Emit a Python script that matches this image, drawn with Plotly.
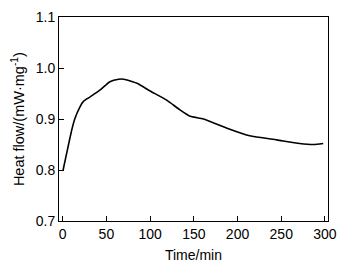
import plotly.graph_objects as go

time_min = [0.5, 4.6, 10.3, 14, 19.8, 24, 31, 43, 54, 64, 70, 85, 100, 119, 134, 145, 161, 188, 214, 245, 271, 287, 298]
heat_flow = [0.800, 0.833, 0.878, 0.901, 0.924, 0.935, 0.943, 0.957, 0.973, 0.978, 0.978, 0.970, 0.955, 0.937, 0.918, 0.906, 0.900, 0.882, 0.867, 0.859, 0.852, 0.850, 0.852]

x_ticks = [0, 50, 100, 150, 200, 250, 300]
y_ticks = [0.7, 0.8, 0.9, 1.0, 1.1]

fig = go.Figure()
fig.add_trace(go.Scatter(x=time_min, y=heat_flow, mode="lines",
                         line=dict(color="black", width=1.6, shape="spline", smoothing=0.5),
                         showlegend=False))

font = dict(family="Liberation Sans, Arial, sans-serif", size=14, color="black")
# page body has an 8px default margin, so the figure is offset by 8px
fig.update_layout(
    width=340, height=259,
    margin=dict(l=51, r=20, t=9, b=46),
    paper_bgcolor="white", plot_bgcolor="white",
    font=font,
)
fig.update_xaxes(range=[-4.2, 303.5], tickvals=x_ticks, ticktext=[str(v) for v in x_ticks],
                 ticks="inside", ticklen=5, tickcolor="black", showline=True, linecolor="black",
                 linewidth=1, mirror=True, showgrid=False, zeroline=False, automargin=False,
                 title=dict(text="Time/min", standoff=9, font=dict(size=14)))
fig.update_yaxes(range=[0.7, 1.1], tickvals=y_ticks, ticktext=["0.7", "0.8", "0.9", "1.0", "1.1"],
                 ticks="inside", ticklen=5, tickcolor="black", showline=True, linecolor="black",
                 linewidth=1, mirror=True, showgrid=False, zeroline=False, automargin=False)
fig.add_annotation(text="Heat flow/(mW·mg<sup>-1</sup>)", xref="paper", yref="paper",
                   x=-0.152, y=0.5, xanchor="center", yanchor="middle", textangle=-90,
                   showarrow=False, font=dict(size=14.5))

fig.write_html("out.html")
